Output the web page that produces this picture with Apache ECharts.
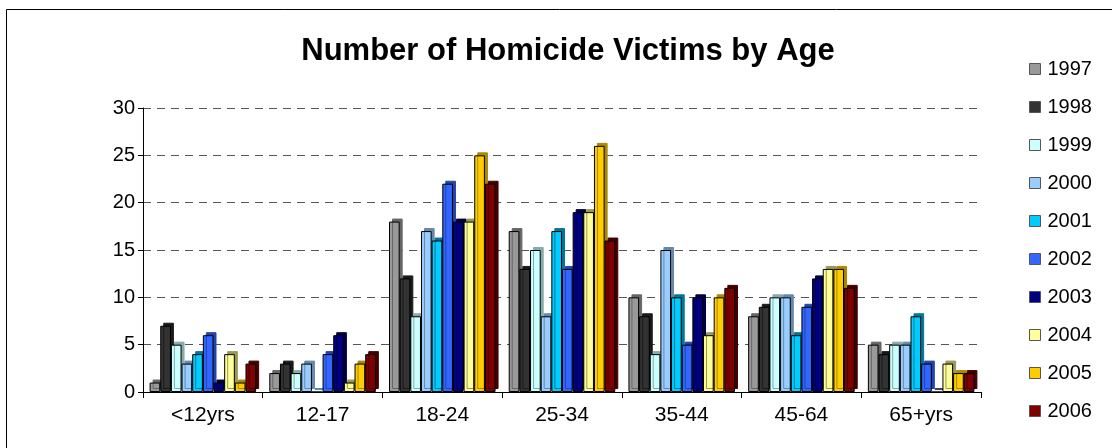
<!DOCTYPE html>
<html>
<head>
<meta charset="utf-8">
<style>
  html, body { margin: 0; padding: 0; background: #fff; }
  #chart { width: 1112px; height: 448px; }
</style>
<script src="https://cdn.jsdelivr.net/npm/echarts@6/dist/echarts.min.js"></script>
</head>
<body>
<div id="chart"></div>
<script>
// age groups on the x axis
var ageGroups = ['<12yrs', '12-17', '18-24', '25-34', '35-44', '45-64', '65+yrs'];
var years = ['1997', '1998', '1999', '2000', '2001', '2002', '2003', '2004', '2005', '2006'];

// victims per year, one value per age group
var v1997 = [1, 2, 18, 17, 10, 8, 5];
var v1998 = [7, 3, 12, 13, 8, 9, 4];
var v1999 = [5, 2, 8, 15, 4, 10, 5];
var v2000 = [3, 3, 17, 8, 15, 10, 5];
var v2001 = [4, 0, 16, 17, 10, 6, 8];
var v2002 = [6, 4, 22, 13, 5, 9, 3];
var v2003 = [1, 6, 18, 19, 10, 12, 0];
var v2004 = [4, 1, 18, 19, 6, 13, 3];
var v2005 = [1, 3, 25, 26, 10, 13, 2];
var v2006 = [3, 4, 22, 16, 11, 11, 2];

var yTicks = [0, 5, 10, 15, 20, 25, 30];

var values = [v1997, v1998, v1999, v2000, v2001, v2002, v2003, v2004, v2005, v2006];
var colors = ['#999999', '#333333', '#ccffff', '#99ccff', '#00ccff', '#3366ff', '#000080', '#ffff99', '#ffcc00', '#800000'];
// side face of the fake 3d bars
var sides  = ['#666666', '#1a1a1a', '#88aaaa', '#6688aa', '#007799', '#2244aa', '#000044', '#999955', '#aa8800', '#440000'];

var chart = echarts.init(document.getElementById('chart'), null, { renderer: 'canvas' });

var series = years.map(function (y, i) {
  return {
    name: y,
    type: 'bar',
    data: values[i],
    barGap: '0%',
    barCategoryGap: '11%',
    itemStyle: {
      color: colors[i],
      borderColor: '#000',
      borderWidth: 1,
      shadowColor: sides[i],
      shadowOffsetX: 3,
      shadowOffsetY: -3,
      shadowBlur: 0
    }
  };
});

var option = {
  animation: false,
  backgroundColor: '#fff',
  textStyle: { fontFamily: 'Liberation Sans, Arial, sans-serif' },
  title: {
    text: 'Number of Homicide Victims by Age',
    left: 563,
    top: 31,
    textAlign: 'center',
    textStyle: { fontSize: 31, fontWeight: 'bold', color: '#000', fontFamily: 'Liberation Sans, Arial, sans-serif' }
  },
  legend: {
    orient: 'vertical',
    left: 1024,
    top: 54,
    itemWidth: 11,
    itemHeight: 11,
    itemGap: 18,
    icon: 'rect',
    itemStyle: { borderColor: '#555', borderWidth: 1, shadowBlur: 0, shadowOffsetX: 0, shadowOffsetY: 0 },
    textStyle: { fontSize: 20, color: '#000', padding: [0, 0, 0, 2] },
    data: years
  },
  grid: { left: 143, right: 131, top: 108, bottom: 56, containLabel: false },
  xAxis: {
    type: 'category',
    data: ageGroups,
    axisLine: { lineStyle: { color: '#000', width: 1 } },
    axisTick: { show: true, length: 6, lineStyle: { color: '#000' } },
    axisLabel: { fontSize: 21, color: '#000', margin: 13 }
  },
  yAxis: {
    type: 'value',
    min: yTicks[0],
    max: yTicks[yTicks.length - 1],
    interval: 5,
    axisLine: { show: true, lineStyle: { color: '#000', width: 1 } },
    axisTick: { show: true, length: 5, lineStyle: { color: '#000' } },
    axisLabel: { fontSize: 20, color: '#000', margin: 8 },
    splitLine: { lineStyle: { color: '#555', type: [8, 6], width: 1 } }
  },
  graphic: [{
    type: 'rect',
    silent: true,
    shape: { x: 6.5, y: 9.5, width: 1200, height: 600 },
    style: { fill: 'none', stroke: '#000', lineWidth: 1 }
  }],
  series: series
};

chart.setOption(option);
</script>
</body>
</html>
